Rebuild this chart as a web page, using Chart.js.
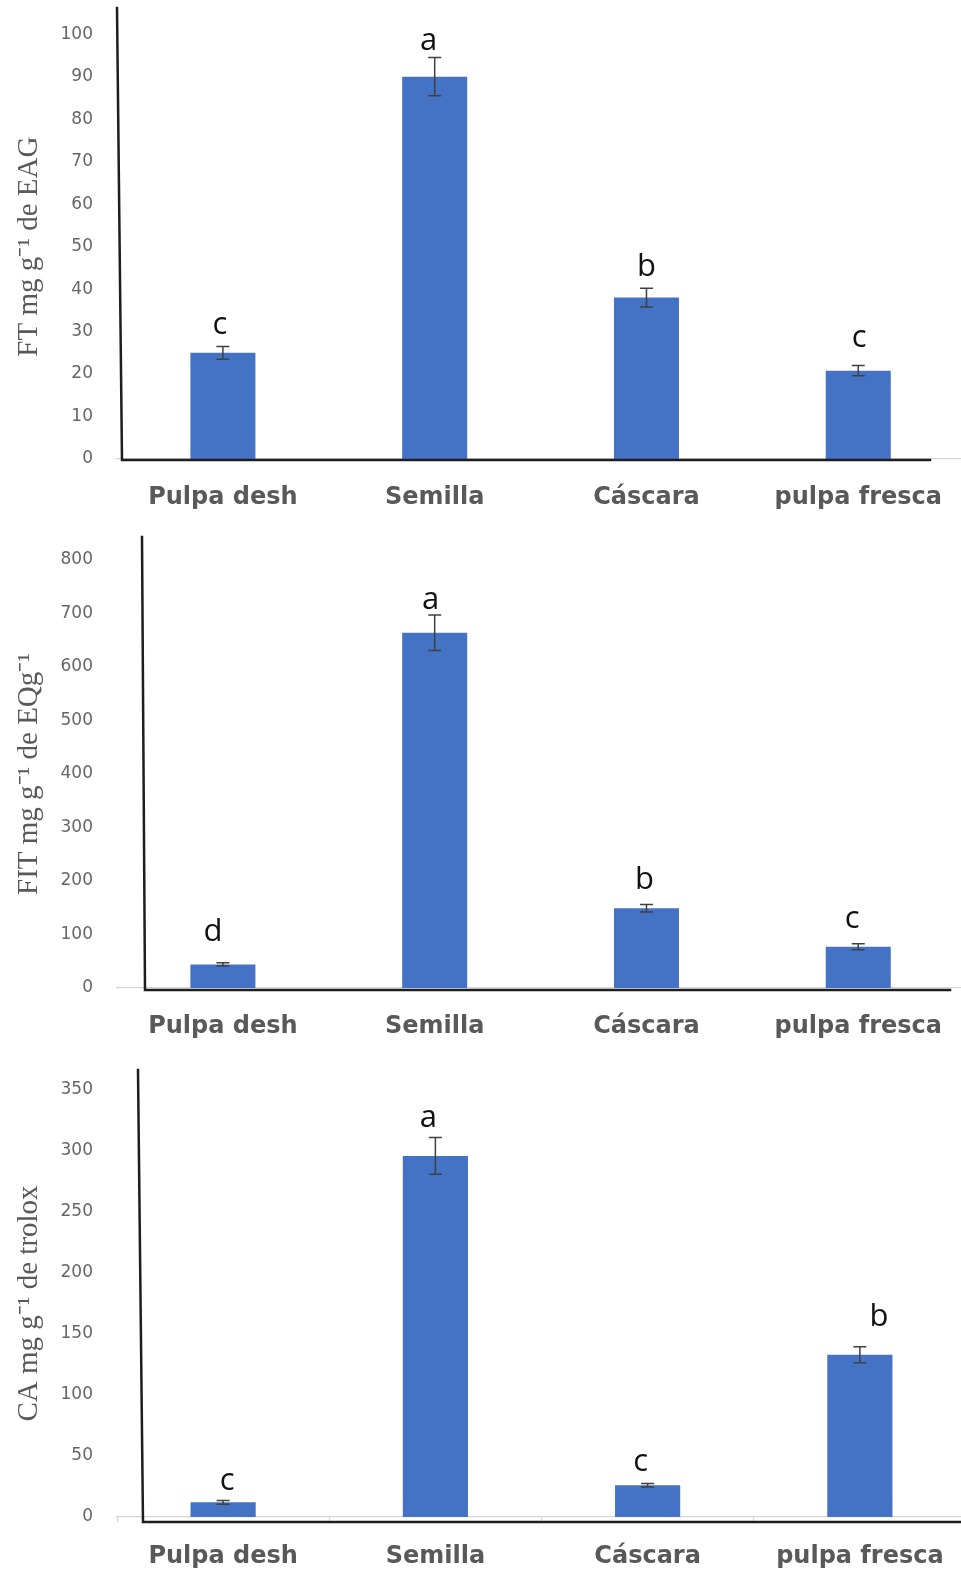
<!DOCTYPE html>
<html>
<head>
<meta charset="utf-8">
<script src="https://cdn.jsdelivr.net/npm/chart.js@4.4.1/dist/chart.umd.min.js"></script>
<style>
  html, body { margin: 0; padding: 0; background: #fff; overflow: hidden; width: 961px; height: 1572px; }
  canvas { position: absolute; left: 0; display: block; }
</style>
</head>
<body>
<canvas id="chart-ft" width="966" height="520" style="top:0px"></canvas>
<canvas id="chart-fit" width="966" height="530" style="top:520px"></canvas>
<canvas id="chart-ca" width="966" height="522" style="top:1050px"></canvas>
<script>
// Data
const categories = ['Pulpa desh', 'Semilla', 'Cáscara', 'pulpa fresca'];

const ftValues = [25, 90, 38, 20.8];
const ftErrors = [1.5, 4.5, 2.2, 1.2];
const ftLetters = ['c', 'a', 'b', 'c'];

const fitValues = [44, 664, 149, 77];
const fitErrors = [3, 33, 7, 5.5];
const fitLetters = ['d', 'a', 'b', 'c'];

const caValues = [12, 296, 26, 133];
const caErrors = [1.5, 15, 1.5, 6.5];
const caLetters = ['c', 'a', 'c', 'b'];

const BAR_COLOR = '#4472C4';
const TEXT_GRAY = '#595959';

// Panel settings (layout + styling)
const panels = [
  {
    id: 'chart-ft', values: ftValues, errors: ftErrors, letters: ftLetters,
    max: 100, step: 10, title: 'FT mg g\u207B\u00B9 de EAG',
    areaTop: 30, areaBottom: 459, xTicks: false, labelPad: 24,
    axis: { topX: 0, topY: 8, botX: 5, botY: 460, endX: 930 },
    nudges: [[-3, 0], [-6, 4], [0, 0], [1, -7]]
  },
  {
    id: 'chart-fit', values: fitValues, errors: fitErrors, letters: fitLetters,
    max: 800, step: 100, title: 'FIT mg g\u207B\u00B9 de EQg\u207B\u00B9',
    areaTop: 40, areaBottom: 468, xTicks: false, labelPad: 24,
    axis: { topX: 25, topY: 17, botX: 28, botY: 470, endX: 950 },
    nudges: [[-10, -10], [-4, 6], [-2, -4], [-6, -4]]
  },
  {
    id: 'chart-ca', values: caValues, errors: caErrors, letters: caLetters,
    max: 350, step: 50, title: 'CA mg g\u207B\u00B9 de trolox',
    areaTop: 40, areaBottom: 467, xTicks: true, labelPad: 20,
    axis: { topX: 21, topY: 20, botX: 26, botY: 472, endX: 966 },
    nudges: [[4, 1], [-7, 1], [-7, 0], [19, -9]]
  }
];

// Error bars, significance letters and hand-drawn black axes
const extrasPlugin = {
  id: 'extras',
  afterDatasetsDraw(chart, args, opts) {
    const p = opts.panel;
    const ctx = chart.ctx;
    const y = chart.scales.y;
    const meta = chart.getDatasetMeta(0);
    ctx.save();
    ctx.strokeStyle = '#404040';
    ctx.lineWidth = 1.5;
    meta.data.forEach((bar, i) => {
      const hi = y.getPixelForValue(p.values[i] + p.errors[i]);
      const lo = y.getPixelForValue(p.values[i] - p.errors[i]);
      ctx.beginPath();
      ctx.moveTo(bar.x, hi); ctx.lineTo(bar.x, lo);
      ctx.moveTo(bar.x - 6.5, hi); ctx.lineTo(bar.x + 6.5, hi);
      ctx.moveTo(bar.x - 6.5, lo); ctx.lineTo(bar.x + 6.5, lo);
      ctx.stroke();

      const n = p.nudges[i];
      ctx.fillStyle = '#111';
      ctx.font = '31px "Open Sans", sans-serif';
      ctx.textAlign = 'center';
      ctx.textBaseline = 'alphabetic';
      ctx.fillText(p.letters[i], bar.x + n[0], hi - 12 + n[1]);
    });
    ctx.restore();
  },
  afterDraw(chart, args, opts) {
    const a = opts.panel.axis;
    const left = chart.chartArea.left;
    const ctx = chart.ctx;
    ctx.save();
    ctx.strokeStyle = '#1e1e1e';
    ctx.lineWidth = 2.5;
    ctx.lineCap = 'square';
    ctx.beginPath();
    ctx.moveTo(left + a.topX, a.topY);
    ctx.lineTo(left + a.botX, a.botY);
    ctx.lineTo(a.endX, a.botY);
    ctx.stroke();
    ctx.restore();
  }
};

panels.forEach(p => {
  const canvas = document.getElementById(p.id);
  const H = canvas.height;
  new Chart(canvas.getContext('2d'), {
    type: 'bar',
    data: {
      labels: categories,
      datasets: [{
        data: p.values,
        backgroundColor: BAR_COLOR,
        borderWidth: 0,
        barPercentage: 1,
        categoryPercentage: 0.307
      }]
    },
    options: {
      responsive: false,
      animation: false,
      devicePixelRatio: 1,
      layout: { padding: { top: p.areaTop, left: 0, right: 0, bottom: 0 } },
      plugins: {
        legend: { display: false },
        tooltip: { enabled: false },
        extras: { panel: p }
      },
      scales: {
        x: {
          afterFit(scale) { scale.height = H - p.areaBottom; },
          grid: {
            display: true,
            drawOnChartArea: false,
            drawTicks: p.xTicks,
            tickLength: 5,
            color: '#d0d0d0'
          },
          border: { display: true, color: '#d6d6d6', width: 1.3 },
          ticks: {
            color: TEXT_GRAY,
            padding: p.labelPad,
            font: { family: '"DejaVu Sans", Verdana, sans-serif', size: 24, weight: 'bold' }
          }
        },
        y: {
          min: 0,
          max: p.max,
          afterFit(scale) { scale.width = 117; },
          grid: { display: false, drawTicks: false },
          border: { display: false },
          ticks: {
            stepSize: p.step,
            padding: 24,
            color: '#666666',
            font: { family: '"DejaVu Sans", Verdana, sans-serif', size: 17 }
          },
          title: {
            display: true,
            text: p.title,
            color: TEXT_GRAY,
            padding: { top: 12, bottom: 0 },
            font: { family: '"Liberation Serif", "Times New Roman", serif', size: 29 }
          }
        }
      }
    },
    plugins: [extrasPlugin]
  });
});
</script>
</body>
</html>
